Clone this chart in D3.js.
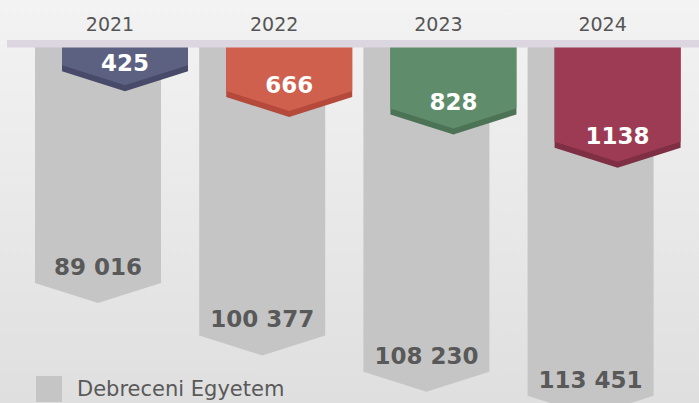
<!DOCTYPE html>
<html>
<head>
<meta charset="utf-8">
<script src="https://cdn.jsdelivr.net/npm/d3@7"></script>
<style>
  html, body { margin: 0; padding: 0; overflow: hidden; }
  svg { display: block; }
</style>
</head>
<body>
<svg id="svg" width="699" height="403"></svg>
<script>
// data
const years = ["2021", "2022", "2023", "2024"];
const students = [89016, 100377, 108230, 113451];
const highlights = [425, 666, 828, 1138];
const legendLabel = "Debreceni Egyetem";

const colors = ["#5c6081", "#d0604e", "#5f8c6a", "#9c3b53"];
const darkColors = ["#474a68", "#b4493c", "#4d7357", "#7f2f43"];

const width = 699, height = 403;
const topY = 47;      // bottom edge of the header strip
const tip = 20;       // depth of the chevron point
const band = 6;       // dark rim under the coloured chevrons
const font = "'DejaVu Sans', sans-serif";

const fmt = d3.formatLocale({ thousands: " ", grouping: [3], decimal: ",", currency: ["", ""] }).format(",d");

const svg = d3.select("#svg");

// background
const grad = svg.append("defs").append("linearGradient")
    .attr("id", "bg").attr("x1", 0).attr("y1", 0).attr("x2", 0).attr("y2", 1);
grad.append("stop").attr("offset", "0%").attr("stop-color", "#f3f3f3");
grad.append("stop").attr("offset", "100%").attr("stop-color", "#dfdfdf");
svg.append("rect").attr("width", width).attr("height", height).attr("fill", "url(#bg)");

const x = d3.scaleBand().domain(years).range([35, 653.6]).paddingInner(0.2326).paddingOuter(0);
const bw = x.bandwidth();
const yGray = d3.scaleLinear().domain([38000, 110000]).range([0, 332.9]);
const yColor = d3.scaleLinear().domain([200, 1150]).range([0, 102]);

function chevron(x0, y0, w, h) {
    return "M" + x0 + "," + y0 + "L" + (x0 + w) + "," + y0 + "L" + (x0 + w) + "," + (y0 + h)
        + "L" + (x0 + w / 2) + "," + (y0 + h + tip) + "L" + x0 + "," + (y0 + h) + "Z";
}

// grey bars
const grey = svg.append("g");
grey.selectAll("path").data(students).join("path")
    .attr("d", (d, i) => chevron(x(years[i]), topY, bw, yGray(d)))
    .attr("fill", "#c5c5c5");
grey.selectAll("text").data(students).join("text")
    .attr("x", (d, i) => x(years[i]) + bw / 2)
    .attr("y", d => topY + yGray(d) - 8)
    .attr("text-anchor", "middle")
    .style("font-family", font).style("font-weight", "bold").style("font-size", "23px")
    .style("fill", "#595959")
    .text(d => fmt(d));

// coloured chevrons
const shift = 27;
const col = svg.append("g");
col.selectAll("path.rim").data(highlights).join("path")
    .attr("class", "rim")
    .attr("d", (d, i) => chevron(x(years[i]) + shift, topY, bw, yColor(d)))
    .attr("fill", (d, i) => darkColors[i]);
col.selectAll("path.face").data(highlights).join("path")
    .attr("class", "face")
    .attr("d", (d, i) => chevron(x(years[i]) + shift, topY, bw, yColor(d) - band))
    .attr("fill", (d, i) => colors[i]);
col.selectAll("text").data(highlights).join("text")
    .attr("x", (d, i) => x(years[i]) + shift + bw / 2)
    .attr("y", d => topY + Math.max(yColor(d), 28) - 4)
    .attr("text-anchor", "middle")
    .style("font-family", font).style("font-weight", "bold").style("font-size", "23px")
    .style("fill", "#ffffff")
    .text(d => d);

// header strip and years
svg.append("rect").attr("x", 7).attr("y", 40).attr("width", width - 7).attr("height", 7.5)
    .attr("fill", "#dcd6e0");
svg.append("g").selectAll("text").data(years).join("text")
    .attr("x", d => x(d) + bw / 2 + 12)
    .attr("y", 31)
    .attr("text-anchor", "middle")
    .style("font-family", font).style("font-size", "19px")
    .style("fill", "#555555")
    .text(d => d);

// legend
const legend = svg.append("g");
legend.append("rect").attr("x", 36).attr("y", 376).attr("width", 26).attr("height", 26)
    .attr("fill", "#c5c5c5");
legend.append("text").attr("x", 77).attr("y", 396)
    .style("font-family", font).style("font-size", "21px")
    .style("fill", "#595959")
    .text(legendLabel);
</script>
</body>
</html>
